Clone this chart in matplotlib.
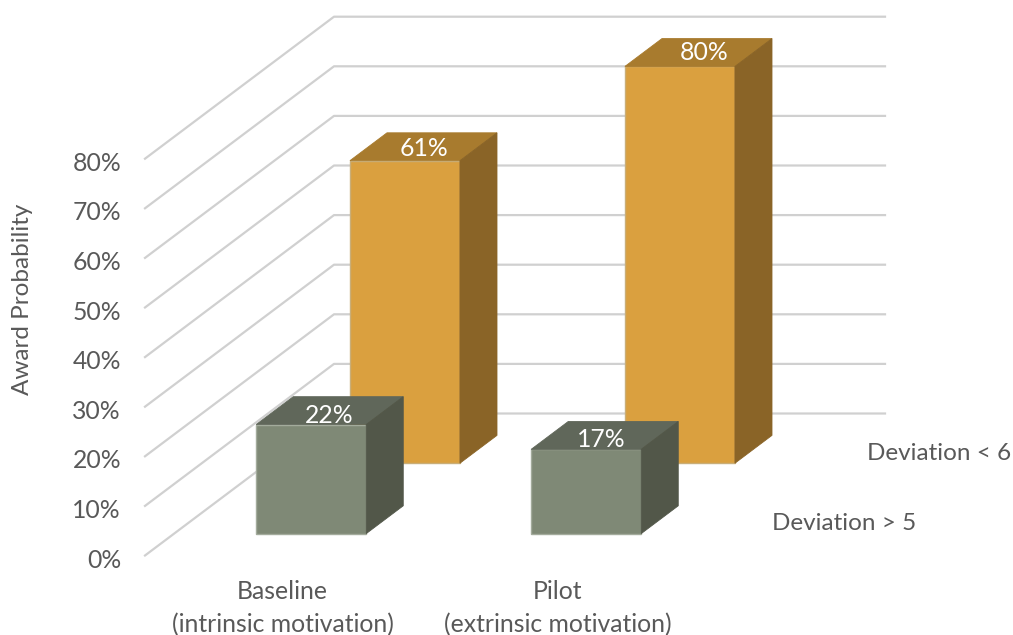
import matplotlib
matplotlib.use('Agg')
import matplotlib.pyplot as plt
from matplotlib.patches import Polygon

plt.rcParams['font.family'] = ['Lato', 'DejaVu Sans']

categories = ['Baseline\n(intrinsic motivation)', 'Pilot\n(extrinsic motivation)']
series_names = ['Deviation > 5', 'Deviation < 6']
front_values = [22, 17]
rear_values = [61, 80]
y_ticks = [0, 10, 20, 30, 40, 50, 60, 70, 80]

# small hand nudges for the labels on top of the bars
front_nudge = [(-1, 4), (-3, 3)]
rear_nudge = [(1, 1), (6, -1)]

# 3d look: value -> y, category slot -> x, depth 0..1 -> shift up and right
X0, Y0 = 145, 555.5
PX_PER_PCT = 4.96
SLOT = 275
DEPTH_X, DEPTH_Y = 189, -142
BAR_W = 110


def project(x, value, depth):
    return x + depth * DEPTH_X, Y0 - value * PX_PER_PCT + depth * DEPTH_Y


def depth_z(depth):
    return 5 - depth


def draw_bar(ax, cat, value, depth, colors, nudge):
    bar_depth = 0.196
    left = X0 + SLOT * (cat + 0.5) - BAR_W / 2 - 0.4
    right = left + BAR_W
    a = project(left, value, depth)
    b = project(right, value, depth)
    c = project(right, 0, depth)
    d = project(left, 0, depth)
    a2 = project(left, value, depth + bar_depth)
    b2 = project(right, value, depth + bar_depth)
    c2 = project(right, 0, depth + bar_depth)
    ax.add_patch(Polygon([a, b, c, d], fc=colors[0], ec=colors[3], lw=1, zorder=depth_z(depth)))
    ax.add_patch(Polygon([a, a2, b2, b], fc=colors[1], ec=colors[1], lw=0.6, zorder=depth_z(depth)))
    ax.add_patch(Polygon([b, b2, c2, c], fc=colors[2], ec=colors[2], lw=0.6, zorder=depth_z(depth)))
    tx = (a[0] + b2[0]) / 2 + nudge[0]
    ty = (a[1] + b2[1]) / 2 + 1 + nudge[1]
    ax.text(tx, ty, '%d%%' % value, color='white', fontsize=TXT, ha='center', va='center',
            zorder=depth_z(depth) + 1)


TXT = 17.8
GREY = '#595959'
GRID = '#d0d0d0'

fig = plt.figure(figsize=(10.13, 6.35), dpi=100)
ax = fig.add_axes([0, 0, 1, 1])
ax.set_xlim(0, 1013)
ax.set_ylim(635, 0)
ax.axis('off')

for t in y_ticks:
    p0 = project(X0, t, 0)
    p1 = project(X0, t, 1)
    p2 = project(X0 + 2 * SLOT + 1, t, 1)
    ax.plot([p0[0], p1[0], p2[0]], [p0[1], p1[1], p2[1]], color=GRID, lw=1.6, zorder=1)
    ax.text(121, p0[1] + 4.5, '%d%%' % t, color=GREY, fontsize=TXT, ha='right', va='center')

rear_colors = ['#DAA03F', '#A87B2E', '#8A6427', '#C9AE78']
front_colors = ['#7F8976', '#60675A', '#525749', '#A3AB9C']

for i in range(len(categories)):
    draw_bar(ax, i, rear_values[i], 0.65, rear_colors, rear_nudge[i])
    draw_bar(ax, i, front_values[i], 0.154, front_colors, front_nudge[i])
    x = X0 + SLOT * (i + 0.5)
    ax.text(x, 608.5, categories[i], color=GREY, fontsize=TXT, ha='center', va='center',
            linespacing=1.52)

ax.text(23, 299, 'Award Probability', color=GREY, fontsize=17.5, rotation=90, ha='center', va='center')
ax.text(844, 523, series_names[0], color=GREY, fontsize=17.5, ha='center', va='center')
ax.text(939, 453, series_names[1], color=GREY, fontsize=17.5, ha='center', va='center')

fig.savefig('out.png', dpi=100)
